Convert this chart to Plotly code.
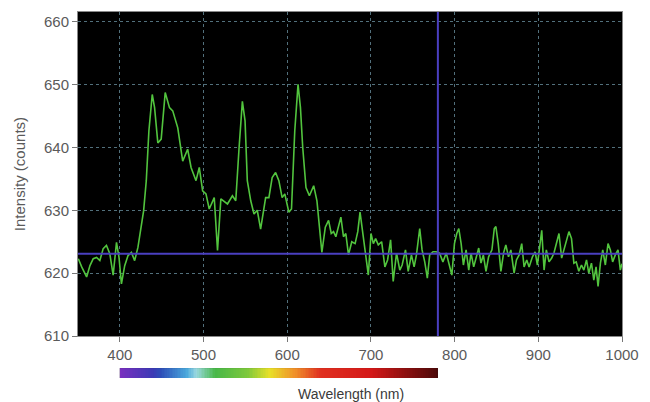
import numpy as np
import plotly.graph_objects as go

# Spectrum trace (wavelength nm, intensity counts)
wavelength = [350.4, 354.4, 360.3, 364.3, 368.2, 372.2, 376.1, 380.1, 384.0, 388.0, 392.0, 396.0, 399.0,
              401.9, 405.8, 409.8, 413.8, 417.7, 421.6, 425.7, 428.4,
              431.6, 434.7, 438.7, 441.5, 445.4, 449.4, 454.2, 459.3, 463.2, 469.2, 475.1, 481.0, 485.1,
              491.0, 494.9, 498.9, 502.9, 506.8, 512.8, 516.7, 520.7,
              528.6, 534.5, 538.5, 542.5, 546.4, 549.6, 552.3, 556.4, 560.3, 564.2, 568.2, 574.2, 578.1,
              582.0, 586.1, 590.0, 593.9, 597.1, 601.9, 605.1, 609.0, 612.9, 615.8, 618.5, 622.4, 626.5,
              631.6, 635.5, 641.4, 645.5, 649.4,
              652.6, 655.3, 658.1, 661.3, 664.1, 667.2, 670.0, 673.2, 677.1, 681.1, 684.3, 687.0, 690.2,
              693.8, 696.9, 700.1, 702.9, 705.6, 708.8, 712.8, 716.7, 719.9, 723.5, 726.6, 730.6, 734.5,
              737.3, 741.3, 744.5, 748.4, 751.6, 754.4, 758.3, 761.1, 764.3, 767.4, 770.2, 774.2,
              778.1, 782.0, 786.0, 790.0, 793.9, 796.7, 799.8, 802.6, 805.0, 807.8, 810.5, 813.7, 816.9,
              819.6, 822.8, 825.6, 828.8, 831.5, 834.3, 837.5, 840.6, 844.6, 847.4, 849.3, 852.1, 855.3,
              858.5, 861.2, 864.4, 867.2, 871.1, 873.9, 877.1, 880.2, 883.0, 886.2, 889.0,
              893.0, 896.2, 898.9, 901.7, 904.1, 906.9, 909.6, 912.8, 916.0, 918.7, 921.5, 924.7, 927.9,
              930.6, 933.4, 936.6, 939.7, 942.5, 945.3, 948.4, 951.6, 954.4, 957.6, 960.3, 963.5, 966.3,
              969.0, 971.4, 974.2, 977.0, 980.1, 983.3, 986.1, 988.8, 992.0, 995.2, 998.0, 1000.0]
intensity = [622.3, 621.0, 619.4, 621.2, 622.3, 622.5, 622.0, 623.9, 624.4, 623.1, 619.7, 624.9, 622.5,
             618.3, 621.2, 622.8, 623.3, 622.0, 624.1, 627.8, 629.9,
             634.7, 642.6, 648.4, 646.3, 640.7, 641.3, 648.7, 646.3, 645.8, 643.1, 637.8, 639.7, 636.8,
             634.7, 636.8, 633.1, 632.6, 630.2, 632.0, 623.6, 631.8,
             631.0, 632.3, 631.5, 640.0, 647.3, 644.2, 634.7, 631.5, 629.4, 630.0, 627.0, 632.0, 632.0,
             635.2, 636.0, 634.7, 632.0, 632.6, 629.7, 630.2, 642.6, 650.0, 646.3, 640.0, 633.6, 632.3,
             633.9, 631.5, 623.3, 627.3, 628.4,
             626.3, 626.6, 625.8, 627.6, 628.9, 625.8, 626.3, 622.9, 625.0, 624.7, 626.6, 629.7, 626.3,
             622.4, 619.7, 626.3, 624.7, 625.5, 624.5, 625.0, 621.0, 622.1, 625.3, 618.7, 623.2, 620.5,
             621.3, 623.7, 620.3, 622.9, 621.0, 622.9, 627.1, 623.7, 621.8, 619.2, 622.9, 623.4,
             623.4, 623.2, 621.8, 623.2, 621.0, 619.7, 624.7, 626.3, 627.1, 624.7, 621.3, 623.7, 620.5,
             623.2, 621.0, 622.4, 624.0, 621.6, 622.9, 620.3, 622.6, 623.7, 627.1, 627.4, 624.7, 620.3,
             623.2, 624.5, 622.6, 623.7, 620.0, 622.1, 622.9, 624.7, 621.0, 622.1, 621.0,
             622.6, 623.4, 621.3, 624.7, 626.8, 620.5, 623.7, 621.8, 622.4, 623.2, 624.7, 626.3, 622.4,
             623.7, 625.3, 626.6, 625.5, 621.6, 621.8, 620.3, 621.3, 620.5, 622.1, 620.0, 621.6, 618.9,
             621.0, 617.9, 621.6, 623.7, 621.3, 624.7, 623.7, 621.8, 622.9, 623.7, 620.5, 621.5]

# Cursor lines
cursor_wavelength = 780
cursor_intensity = 623.1

# Axis ticks
x_ticks = [400, 500, 600, 700, 800, 900, 1000]
y_ticks = [610, 620, 630, 640, 650, 660]

# Wavelength colour bar (visible range) and its colour stops
bar_start, bar_end = 400, 780
bar_stops = [[0.0, "#7a2fbf"], [0.105, "#3b3ab5"], [0.13, "#2d4fb8"], [0.21, "#4aa8dc"],
             [0.24, "#9ad8e0"], [0.30, "#48b848"], [0.40, "#7cc83c"], [0.47, "#e8e028"],
             [0.55, "#f0902a"], [0.63, "#e03020"], [0.79, "#d41818"], [1.0, "#4a0808"]]

bar_x = np.linspace(bar_start, bar_end, 200)

x_min, x_max = 350, 1000
y_min, y_max = 610, 661.5

fig = go.Figure()

fig.add_trace(go.Scatter(x=wavelength, y=intensity, mode="lines",
                         line=dict(color="#52c43e", width=1.6), showlegend=False,
                         hoverinfo="skip"))

fig.add_trace(go.Heatmap(x=bar_x, y=[0], z=[bar_x], colorscale=bar_stops, showscale=False,
                         xaxis="x2", yaxis="y2", hoverinfo="skip"))

grid = "rgba(110,150,165,0.75)"
font_family = "Liberation Sans, Arial, sans-serif"
span = x_max - x_min

fig.update_layout(
    width=650, height=402,
    margin=dict(l=78, r=25, t=11, b=20),
    paper_bgcolor="white",
    plot_bgcolor="black",
    font=dict(family=font_family, color="#5a5a5a", size=15),
    xaxis=dict(range=[x_min, x_max], tickvals=x_ticks, showgrid=True, gridcolor=grid,
               griddash="dot", gridwidth=1, zeroline=False, showline=True, linecolor="#888",
               mirror=True, ticks="outside", ticklen=5, tickcolor="#777",
               tickfont=dict(size=15, color="#5a5a5a"), anchor="y"),
    yaxis=dict(range=[y_min, y_max], tickvals=y_ticks, showgrid=True, gridcolor=grid,
               griddash="dot", gridwidth=1, zeroline=False, showline=True, linecolor="#888",
               mirror=True, ticks="outside", ticklen=5, tickcolor="#777",
               tickfont=dict(size=15, color="#5a5a5a"),
               title=dict(text="Intensity (counts)", font=dict(size=15, color="#5a5a5a"),
                          standoff=14),
               domain=[0.124, 1.0], anchor="x"),
    xaxis2=dict(range=[bar_start, bar_end], visible=False, anchor="y2",
                domain=[(bar_start - x_min) / span, (bar_end - x_min) / span]),
    yaxis2=dict(domain=[0.0108, 0.0377], visible=False, anchor="x2", range=[-0.5, 0.5]),
    shapes=[
        dict(type="line", xref="x", yref="y", x0=x_min, x1=x_max, y0=cursor_intensity,
             y1=cursor_intensity, line=dict(color="#4a3fc0", width=2), layer="above"),
        dict(type="line", xref="x", yref="y", x0=cursor_wavelength, x1=cursor_wavelength,
             y0=y_min, y1=y_max, line=dict(color="#4a3fc0", width=2), layer="above"),
    ],
    annotations=[
        dict(text="Wavelength (nm)", xref="paper", yref="paper", x=0.501, y=-0.032,
             showarrow=False, font=dict(size=14, color="#3a3a3a"), xanchor="center",
             yanchor="middle"),
    ],
)

fig.write_html("out.html")
